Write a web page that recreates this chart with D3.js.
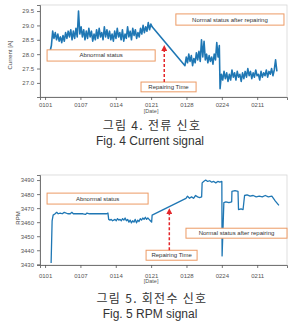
<!DOCTYPE html>
<html>
<head>
<meta charset="utf-8">
<script src="https://cdn.jsdelivr.net/npm/d3@7"></script>
<style>
body { margin: 0; background: #fff; }
</style>
</head>
<body>
<script>
// shared date axis
var tickDays = [0, 7, 14, 21, 28, 35, 42];
var tickLabels = ["0101", "0107", "0114", "0121", "0128", "0224", "0211"];

// Fig. 4 current signal [A]
var curTicks = [27.0, 27.5, 28.0, 28.5, 29.0, 29.5];
var curAbnormalSpan = [1.0, 21.2];
var curAbnormal = [28.1, 28.3, 28.8, 28.55, 28.75, 28.5, 28.7, 28.45, 28.6, 28.4,
  28.65, 28.45, 28.75, 28.55, 28.8, 28.6, 28.85, 28.5, 28.8, 28.55,
  28.9, 28.6, 29.5, 28.7, 28.95, 28.6, 28.85, 28.5, 28.8, 28.55,
  28.9, 28.6, 28.8, 28.45, 28.7, 28.5, 28.85, 28.55, 28.9, 28.6,
  28.75, 28.5, 28.95, 28.6, 28.85, 28.55, 28.8, 28.5, 28.7, 28.45,
  28.8, 28.55, 28.9, 28.6, 28.75, 28.5, 28.85, 28.45, 28.7, 28.55,
  28.95, 28.6, 28.8, 28.5, 28.9, 28.65, 28.85, 28.55, 28.75, 28.6,
  28.9, 28.7, 29.0, 28.75, 28.95, 28.8, 29.1, 28.85, 29.05, 28.95];
var curAfter1Span = [27.7, 34.5];
var curAfter1 = [27.6, 27.9, 27.7, 28.0, 27.75, 27.95, 27.6, 27.85, 27.7, 28.05,
  27.8, 28.1, 27.75, 28.5, 27.9, 28.45, 27.8, 28.0, 27.7, 27.95,
  27.75, 27.9, 27.65, 28.0, 27.8, 28.4, 27.9, 28.3];
var curAfter2Span = [34.65, 45.9];
var curAfter2 = [26.8, 27.3, 27.1, 27.4, 27.15, 27.35, 27.05, 27.3, 27.1, 27.45,
  27.2, 27.35, 27.1, 27.4, 27.2, 27.3, 27.05, 27.35, 27.15, 27.4,
  27.2, 27.5, 27.25, 27.4, 27.15, 27.35, 27.2, 27.45, 27.25, 27.3,
  27.1, 27.4, 27.2, 27.35, 27.25, 27.45, 27.2, 27.4, 27.3, 27.5,
  27.25, 27.45, 27.8, 27.4];

// Fig. 5 RPM signal
var rpmTicks = [3430, 3440, 3450, 3460, 3470, 3480, 3490];
var rpmStartDays = [1.2, 1.4, 1.6, 2.0, 2.3, 2.6, 3.0, 3.4, 3.8, 4.5, 5.0, 5.3, 5.6, 6.5, 7.5, 8.0, 8.3, 8.8, 9.5, 10.5, 11.5, 12.2, 12.45];
var rpmStartVals = [3431, 3461, 3465, 3466, 3467, 3466, 3466.5, 3466, 3467, 3466, 3466, 3467, 3466, 3466, 3466, 3465.5, 3466.5, 3466, 3466, 3466, 3466, 3466, 3466.5];
var rpmNoisySpan = [12.6, 21.1];
var rpmNoisy = [3462, 3461.5, 3462, 3461, 3461.5, 3462, 3461, 3462.5, 3461.5, 3462,
  3461, 3462.5, 3461.5, 3463, 3461, 3462, 3460, 3461.5, 3459.5, 3461,
  3460, 3462, 3459.5, 3461.5, 3460.5, 3462.5, 3461.5, 3463, 3462, 3463.5,
  3462, 3463, 3462, 3461, 3460];
var rpmAfterDays = [21.2, 27.9, 28.2, 28.6, 29.0, 29.4, 29.8, 30.2, 30.6, 31.0, 31.1, 31.4, 31.8, 32.2, 32.6, 33.0, 33.4, 33.8, 34.2, 34.6, 35.0, 35.05, 35.4, 35.8, 36.4, 36.95, 37.0, 37.6, 38.2, 38.3, 38.8, 39.2, 39.5, 40.0, 40.6, 41.2, 41.8, 42.4, 43.0, 43.6, 44.2, 44.9, 45.6, 46.3];
var rpmAfterVals = [3465, 3477, 3478.5, 3477, 3478, 3477, 3479, 3478, 3477.5, 3478, 3488, 3489, 3490, 3489, 3489.5, 3488.5, 3489, 3488, 3489, 3488.5, 3489, 3436, 3474, 3474.5, 3474, 3474.5, 3482, 3482.5, 3482, 3469, 3469.5, 3469, 3479, 3479.5, 3478.5, 3479, 3478, 3478.5, 3478, 3479, 3478, 3478.5, 3475, 3472];

function spread(span, vals) {
  var step = (span[1] - span[0]) / (vals.length - 1);
  return vals.map((v, i) => [span[0] + i * step, v]);
}
function pairs(days, vals) {
  return days.map((d, i) => [d, vals[i]]);
}

var curData = spread(curAbnormalSpan, curAbnormal)
  .concat(spread(curAfter1Span, curAfter1))
  .concat(spread(curAfter2Span, curAfter2));
var rpmData = pairs(rpmStartDays, rpmStartVals)
  .concat(spread(rpmNoisySpan, rpmNoisy))
  .concat(pairs(rpmAfterDays, rpmAfterVals));

var svg = d3.select('body')
  .append('svg')
  .attr('width', 297)
  .attr('height', 324);

var defs = svg.append('defs');
defs.append('marker')
  .attr('id', 'head')
  .attr('viewBox', '0 0 10 10')
  .attr('refX', 5).attr('refY', 5)
  .attr('markerWidth', 4).attr('markerHeight', 4)
  .attr('orient', 'auto')
  .append('path')
  .attr('d', 'M0,0L10,5L0,10Z')
  .attr('fill', '#e3262a');

function drawChart(cfg) {
  var x = d3.scaleLinear().domain([-1.0, 47.9]).range([40, 287]);
  var y = d3.scaleLinear().domain(cfg.yDomain).range([cfg.bottom, cfg.top]);
  var g = svg.append('g');

  // frame
  g.append('rect')
    .attr('x', 40).attr('y', cfg.top)
    .attr('width', 247).attr('height', cfg.bottom - cfg.top)
    .attr('fill', 'none').attr('stroke', '#d6d6d6').attr('stroke-width', 0.8);

  var yAxis = g.append('g')
    .attr('transform', 'translate(40,0)')
    .call(d3.axisLeft(y).tickValues(cfg.ticks).tickFormat(cfg.fmt).tickSize(3).tickPadding(3));
  var xAxis = g.append('g')
    .attr('transform', `translate(0,${cfg.bottom})`)
    .call(d3.axisBottom(x).tickValues(tickDays).tickFormat((d, i) => tickLabels[i]).tickSize(3).tickPadding(cfg.xPad));
  [yAxis, xAxis].forEach(a => {
    a.select('.domain').attr('stroke', '#555').attr('stroke-width', 0.8);
    a.selectAll('.tick line').attr('stroke', '#555').attr('stroke-width', 0.8);
    a.selectAll('.tick text').attr('fill', '#555').attr('font-size', '6px')
      .attr('font-family', 'Liberation Sans, Arial, sans-serif');
  });

  g.append('path')
    .datum(cfg.data)
    .attr('d', d3.line().x(d => x(d[0])).y(d => y(d[1])))
    .attr('fill', 'none')
    .attr('stroke', '#1f77b4')
    .attr('stroke-width', cfg.lw)
    .attr('stroke-linejoin', 'round');

  // annotation boxes
  cfg.boxes.forEach(b => {
    g.append('rect')
      .attr('x', x(b.d0)).attr('y', y(b.v0))
      .attr('width', x(b.d1) - x(b.d0)).attr('height', y(b.v1) - y(b.v0))
      .attr('fill', '#fff').attr('stroke', '#ec9a64').attr('stroke-width', 1);
    g.append('text')
      .attr('x', (x(b.d0) + x(b.d1)) / 2)
      .attr('y', (y(b.v0) + y(b.v1)) / 2)
      .attr('text-anchor', 'middle')
      .attr('dominant-baseline', 'central')
      .attr('font-size', '6px')
      .attr('font-family', 'Liberation Sans, Arial, sans-serif')
      .attr('fill', '#333')
      .text(b.label);
  });

  // repairing time arrow
  g.append('line')
    .attr('x1', x(cfg.arrow[0])).attr('x2', x(cfg.arrow[0]))
    .attr('y1', y(cfg.arrow[1])).attr('y2', y(cfg.arrow[2]) + 3)
    .attr('stroke', '#e3262a').attr('stroke-width', 1.5)
    .attr('stroke-dasharray', '3,2')
    .attr('marker-end', 'url(#head)');

  // axis labels
  g.append('text')
    .attr('transform', `translate(${cfg.yLabelX},${(cfg.top + cfg.bottom) / 2 + cfg.yLabelDy}) rotate(-90)`)
    .attr('text-anchor', 'middle')
    .attr('font-size', '6px')
    .attr('font-family', 'Liberation Sans, Arial, sans-serif')
    .attr('fill', '#444')
    .text(cfg.yLabel);
  g.append('text')
    .attr('x', x(21)).attr('y', cfg.dateY)
    .attr('text-anchor', 'middle')
    .attr('font-size', '5.5px')
    .attr('font-family', 'Liberation Sans, Arial, sans-serif')
    .attr('fill', '#555')
    .text('[Date]');

  // captions
  g.append('text')
    .attr('x', 152).attr('y', cfg.capY)
    .attr('text-anchor', 'middle')
    .attr('font-size', '12px')
    .attr('letter-spacing', '1.3px')
    .attr('font-family', 'Noto Sans CJK KR, sans-serif')
    .attr('fill', '#333')
    .text(cfg.capKo);
  g.append('text')
    .attr('x', 150).attr('y', cfg.capY + 15)
    .attr('text-anchor', 'middle')
    .attr('font-size', '12px')
    .attr('font-family', 'Liberation Sans, Arial, sans-serif')
    .attr('fill', '#333')
    .text(cfg.capEn);
}

drawChart({
  top: 5, bottom: 97,
  yDomain: [26.51, 29.71],
  ticks: curTicks,
  fmt: d3.format('.1f'),
  xPad: 3,
  data: curData,
  lw: 1.6,
  boxes: [
    {label: 'Abnormal status', d0: 0.4, d1: 21.8, v0: 28.15, v1: 27.76},
    {label: 'Normal status after repairing', d0: 25.9, d1: 47.3, v0: 29.4, v1: 29.01},
    {label: 'Repairing Time', d0: 19.0, d1: 29.9, v0: 27.03, v1: 26.69}
  ],
  arrow: [23.6, 27.03, 28.32],
  yLabel: 'Current [A]', yLabelX: 12, yLabelDy: 4,
  dateY: 113,
  capY: 129.5, capKo: '그림 4. 전류 신호', capEn: 'Fig. 4 Current signal'
});

drawChart({
  top: 175, bottom: 265,
  yDomain: [3429.5, 3493.6],
  ticks: rpmTicks,
  fmt: d3.format('d'),
  xPad: 6,
  data: rpmData,
  lw: 1.3,
  boxes: [
    {label: 'Abnormal status', d0: 0.4, d1: 20.4, v0: 3480.7, v1: 3472.9},
    {label: 'Normal status after repairing', d0: 27.9, d1: 47.9, v0: 3455.7, v1: 3448.6},
    {label: 'Repairing Time', d0: 20.0, d1: 30.1, v0: 3440, v1: 3432.9}
  ],
  arrow: [24.6, 3440, 3470],
  yLabel: 'RPM', yLabelX: 20, yLabelDy: -2,
  dateY: 283,
  capY: 302.5, capKo: '그림 5. 회전수 신호', capEn: 'Fig. 5 RPM signal'
});
</script>
</body>
</html>
